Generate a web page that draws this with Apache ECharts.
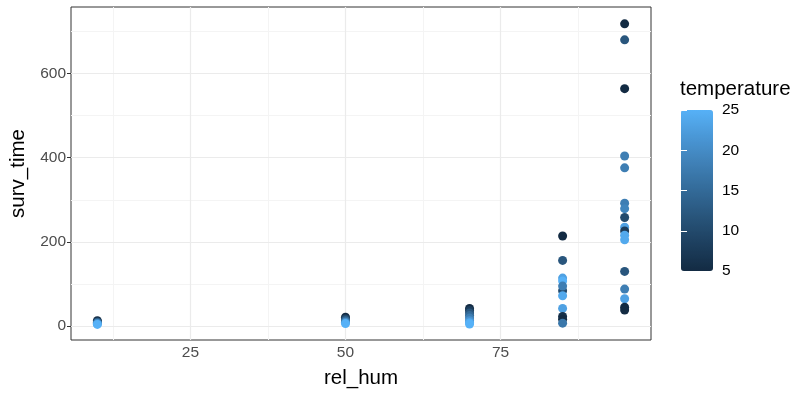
<!DOCTYPE html>
<html>
<head>
<meta charset="utf-8">
<script src="https://cdn.jsdelivr.net/npm/echarts@6/dist/echarts.min.js"></script>
<style>html,body{margin:0;padding:0;background:#fff}#c{width:796px;height:394px}</style>
</head>
<body>
<div id="c"></div>
<script>
// Data
const relHum = [
  10,10,10,10,10,
  50,50,50,50,50,
  70,70,70,70,70,70,70,70,
  85,85,85,85,85,85,85,85,85,85,85,
  95,95,95,95,95,95,95,95,95,95,95,95,95,95,95,95,95
];
const survTime = [
  13,10,8,6,4,
  21,17,13,9,6,
  42,37,31,25,19,13,8,5,
  214,156,114,107,84,95,72,42,23,16,7,
  718,680,564,404,376,292,279,258,235,226,216,205,130,88,65,45,38
];
const temperature = [
  5,10,15,20,25,
  5,10,15,20,25,
  5,8,12,15,18,21,24,25,
  5,12,23,25,10,18,24,23,6,5,17,
  5,12,5,18,18,18,19,10,23,8,24,24,12,18,23,5,5
];
const xMajor = [25, 50, 75];
const xMinor = [12.5, 37.5, 62.5, 87.5];
const yMajor = [0, 200, 400, 600];
const yMinor = [100, 300, 500, 700];
const tempTicks = [5, 10, 15, 20, 25];

const FONT = 'Liberation Sans, Arial, Helvetica, sans-serif';
const points = relHum.map((x, i) => [x, survTime[i], temperature[i]]);

const gridLines = [];
xMinor.forEach(v => gridLines.push({xAxis: v, lineStyle: {color: '#F4F4F4', width: 1, type: 'solid'}}));
yMinor.forEach(v => gridLines.push({yAxis: v, lineStyle: {color: '#F4F4F4', width: 1, type: 'solid'}}));
xMajor.forEach(v => gridLines.push({xAxis: v, lineStyle: {color: '#EBEBEB', width: 1.2, type: 'solid'}}));
yMajor.forEach(v => gridLines.push({yAxis: v, lineStyle: {color: '#EBEBEB', width: 1.2, type: 'solid'}}));

const chart = echarts.init(document.getElementById('c'), null, {renderer: 'canvas'});
chart.setOption({
  animation: false,
  textStyle: {fontFamily: FONT},
  grid: [
    {left: 71, right: 145, top: 7, bottom: 49, show: true, borderColor: '#333333', borderWidth: 1, backgroundColor: '#fff', containLabel: false},
    {left: 681, top: 110, width: 32, height: 161, show: false}
  ],
  xAxis: [
    {
      type: 'value', gridIndex: 0, min: 5.75, max: 99.25,
      name: 'rel_hum', nameLocation: 'middle', nameGap: 28,
      nameTextStyle: {color: '#000', fontSize: 20.5, fontFamily: FONT},
      axisLine: {show: false},
      splitLine: {show: false},
      axisTick: {show: true, customValues: xMajor, length: 4, lineStyle: {color: '#333333', width: 1}},
      axisLabel: {customValues: xMajor, color: '#4D4D4D', fontSize: 15.5, margin: 5, fontFamily: FONT}
    },
    {type: 'value', gridIndex: 1, min: 0, max: 1, show: false}
  ],
  yAxis: [
    {
      type: 'value', gridIndex: 0, min: -33, max: 758,
      name: 'surv_time', nameLocation: 'middle', nameGap: 39, nameRotate: 90,
      nameTextStyle: {color: '#000', fontSize: 20.5, fontFamily: FONT},
      axisLine: {show: false},
      splitLine: {show: false},
      axisTick: {show: true, customValues: yMajor, length: 4, lineStyle: {color: '#333333', width: 1}},
      axisLabel: {customValues: yMajor, color: '#4D4D4D', fontSize: 15.5, margin: 5, fontFamily: FONT}
    },
    {
      type: 'value', gridIndex: 1, min: 5, max: 25, interval: 5, position: 'right', z: 10,
      axisLine: {show: false}, splitLine: {show: false},
      axisTick: {show: true, inside: true, length: 6, lineStyle: {color: '#ffffff', width: 1}},
      axisLabel: {color: '#000', fontSize: 15.5, margin: 9, fontFamily: FONT}
    },
    {
      type: 'value', gridIndex: 1, min: 5, max: 25, interval: 5, position: 'left', z: 10,
      axisLine: {show: false}, splitLine: {show: false},
      axisTick: {show: true, inside: true, length: 6, lineStyle: {color: '#ffffff', width: 1}},
      axisLabel: {show: false}
    }
  ],
  visualMap: {
    type: 'continuous', min: 5, max: 25, dimension: 2, seriesIndex: 1,
    left: 681, top: 110, itemWidth: 32, itemHeight: 161, padding: 0,
    calculable: false, text: null, showLabel: false, realtime: false,
    hoverLink: false,
    inRange: {color: ['#132B43', '#1D3F5E', '#28547A', '#336A98', '#3F80B6', '#4A97D6', '#56B1F7']}
  },
  title: {
    text: 'temperature', left: 680, top: 79, padding: 0,
    textStyle: {color: '#000', fontSize: 20.5, fontWeight: 'normal', fontFamily: FONT}
  },
  series: [
    {
      type: 'line', xAxisIndex: 0, yAxisIndex: 0, data: [], z: 1, silent: true,
      markLine: {silent: true, symbol: 'none', label: {show: false}, animation: false, data: gridLines}
    },
    {
      type: 'scatter', xAxisIndex: 0, yAxisIndex: 0, data: points, symbolSize: 9, z: 5,
      itemStyle: {opacity: 1}
    },
    {type: 'scatter', xAxisIndex: 1, yAxisIndex: 1, data: []}
  ]
});
</script>
</body>
</html>
